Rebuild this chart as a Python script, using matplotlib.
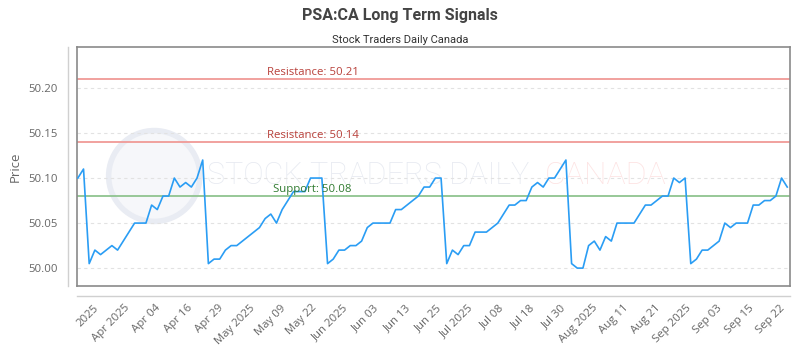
import numpy as np
import matplotlib
matplotlib.use('Agg')
from matplotlib import pyplot as plt
from matplotlib.patches import Ellipse
from matplotlib.lines import Line2D

# data
prices = [
	50.10, 50.11, 50.005, 50.02, 50.015, 50.02, 50.025, 50.02, 50.03, 50.04,
	50.05, 50.05, 50.05, 50.07, 50.065, 50.08, 50.08, 50.10, 50.09, 50.095,
	50.09, 50.10, 50.12, 50.005, 50.01, 50.01, 50.02, 50.025, 50.025, 50.03,
	50.035, 50.04, 50.045, 50.055, 50.06, 50.05, 50.065, 50.075, 50.085, 50.085,
	50.085, 50.10, 50.10, 50.10, 50.005, 50.01, 50.02, 50.02, 50.025, 50.025,
	50.03, 50.045, 50.05, 50.05, 50.05, 50.05, 50.065, 50.065, 50.07, 50.075,
	50.08, 50.09, 50.09, 50.10, 50.10, 50.005, 50.02, 50.015, 50.025, 50.025,
	50.04, 50.04, 50.04, 50.045, 50.05, 50.06, 50.07, 50.07, 50.075, 50.075,
	50.09, 50.095, 50.09, 50.10, 50.10, 50.11, 50.12, 50.005, 50.00, 50.00,
	50.025, 50.03, 50.02, 50.035, 50.03, 50.05, 50.05, 50.05, 50.05, 50.06,
	50.07, 50.07, 50.075, 50.08, 50.08, 50.10, 50.095, 50.10, 50.005, 50.01,
	50.02, 50.02, 50.025, 50.03, 50.05, 50.045, 50.05, 50.05, 50.05, 50.07,
	50.07, 50.075, 50.075, 50.08, 50.10, 50.09,
]
tick_labels = ['2025', 'Apr 2025', 'Apr 04', 'Apr 16', 'Apr 29', 'May 2025', 'May 09',
	'May 22', 'Jun 2025', 'Jun 03', 'Jun 13', 'Jun 25', 'Jul 2025', 'Jul 08',
	'Jul 18', 'Jul 30', 'Aug 2025', 'Aug 11', 'Aug 21', 'Sep 2025', 'Sep 03',
	'Sep 15', 'Sep 22']
resistance = [50.21, 50.14]
support = [50.08]

plt.rcParams['font.family'] = ['Open Sans', 'DejaVu Sans']

fig = plt.figure(figsize=(8, 3.5), dpi=100)
ax = fig.add_axes([0.0966, 0.183, 0.891, 0.683])

x = np.arange(len(prices))
ax.plot(x, prices, color='#2a9df4', lw=1.2, zorder=3)

# levels
for r in resistance:
	ax.axhline(r, color='#f09a96', lw=1.3, zorder=2)
	ax.text(0.33, r + 0.0015, 'Resistance: %.2f' % r, transform=ax.get_yaxis_transform(),
		ha='center', va='bottom', color='#b8403a', fontsize=8.2, zorder=4)
for s in support:
	ax.axhline(s, color='#8fc48f', lw=1.3, zorder=2)
	ax.text(0.33, s + 0.0015, 'Support: %.2f' % s, transform=ax.get_yaxis_transform(),
		ha='center', va='bottom', color='#2f7a2f', fontsize=8.2, zorder=4)

# watermark
ax.add_patch(Ellipse((0.108, 0.46), 0.128, 0.38, transform=ax.transAxes,
	facecolor='#f6f7fa', edgecolor='#e9ecf3', lw=4, zorder=0))
ax.text(0.182, 0.462, 'STOCK TRADERS DAILY', transform=ax.transAxes, ha='left', va='center',
	fontsize=22, color='#e7eaf1', zorder=0, family=['Roboto', 'DejaVu Sans'], fontweight='light')
ax.text(0.656, 0.462, 'CANADA', transform=ax.transAxes, ha='left', va='center',
	fontsize=23, color='#fde3e3', zorder=0, family=['Roboto', 'DejaVu Sans'], fontweight='light')

ax.set_xlim(-0.1, len(prices) - 0.5)
ax.set_ylim(49.9802, 50.2456)
ax.set_yticks([50.00, 50.05, 50.10, 50.15, 50.20])
ax.set_yticklabels(['50.00', '50.05', '50.10', '50.15', '50.20'])
ax.grid(axis='y', color='#e2e2e2', ls=(0, (3, 3)), lw=0.8)
ax.set_axisbelow(True)

ax.set_xticks(np.linspace(2.7, 123.6, len(tick_labels)))
ax.set_xticklabels(tick_labels, rotation=45, ha='right', va='top', rotation_mode='anchor')
ax.tick_params(axis='x', length=0, pad=12, labelsize=8.2, labelcolor='#666666')
ax.tick_params(axis='y', length=0, pad=14, labelsize=8.2, labelcolor='#666666')
ax.set_ylabel('Price', color='#666666', fontsize=9.5, labelpad=5)

for sp in ax.spines.values():
	sp.set_color('#8a8a8a')
	sp.set_linewidth(1.2)

# separate axis lines like the original
fig.add_artist(Line2D([0.0845, 0.0845], [0.183, 0.866], color='#d0d0d0', lw=1))
fig.add_artist(Line2D([0.0966, 0.9875], [0.154, 0.154], color='#d0d0d0', lw=1))

fig.text(0.5, 0.955, 'PSA:CA Long Term Signals', ha='center', va='center', fontsize=11.5,
	fontweight='bold', color='#444444', family=['Roboto', 'DejaVu Sans'])
fig.text(0.5, 0.885, 'Stock Traders Daily Canada', ha='center', va='center', fontsize=8,
	color='#333333', family=['Roboto', 'DejaVu Sans'])

fig.savefig('out.png', dpi=100, facecolor='white')
